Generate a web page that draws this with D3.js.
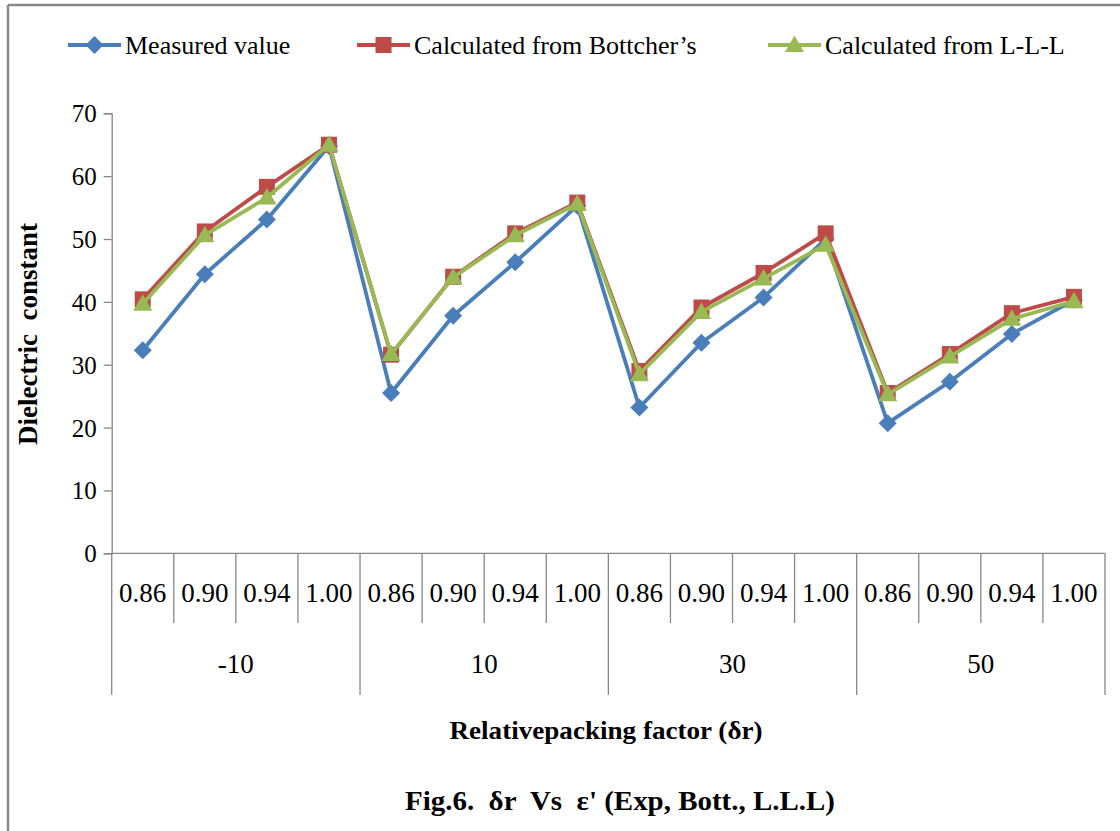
<!DOCTYPE html>
<html>
<head>
<meta charset="utf-8">
<script src="https://cdn.jsdelivr.net/npm/d3@7"></script>
<style>
  html, body { margin: 0; padding: 0; background: #fff; }
  svg { display: block; }
  text { font-family: "Liberation Serif", "Times New Roman", serif; fill: #000; }
</style>
</head>
<body>
<div id="chart"></div>
<script>
// ---------- data ----------
const groups = ["-10", "10", "30", "50"];
const subLabels = ["0.86", "0.90", "0.94", "1.00"];
const measured   = [32.3, 44.4, 53.1, 64.8, 25.5, 37.8, 46.3, 55.3, 23.2, 33.5, 40.7, 50.0, 20.7, 27.3, 34.9, 40.3];
const bottcher   = [40.4, 51.2, 58.3, 65.0, 31.6, 44.0, 50.9, 55.8, 29.0, 39.1, 44.6, 50.9, 25.5, 31.7, 38.2, 40.8];
const lll        = [39.7, 50.6, 56.6, 65.0, 31.7, 43.9, 50.6, 55.6, 28.5, 38.4, 43.7, 49.1, 25.3, 31.3, 37.3, 40.1];
const seriesNames = ["Measured value", "Calculated from Bottcher\u2019s", "Calculated from L-L-L"];
const yTicks = [0, 10, 20, 30, 40, 50, 60, 70];
const yTitle = "Dielectric  constant";
const xTitle = "Relativepacking factor (\u03b4r)";
const caption = "Fig.6.  \u03b4r  Vs  \u03b5' (Exp, Bott., L.L.L)";

// ---------- layout ----------
const W = 1120, H = 831;
const plotLeft = 111.7, plotRight = 1105, plotTop = 113.3, plotBottom = 553.3;
const colors = ["#4A7EBB", "#BE4B48", "#98B954"];
const shapes = ["diamond", "square", "triangle"];

const cats = [];
groups.forEach(g => subLabels.forEach(s => cats.push(g + "|" + s)));

const svg = d3.select("#chart").append("svg").attr("width", W).attr("height", H);

// outer frame
svg.append("line").attr("x1", 8).attr("x2", W).attr("y1", 5).attr("y2", 5)
  .attr("stroke", "#8a8a8a").attr("stroke-width", 2.5);
svg.append("line").attr("x1", 8).attr("x2", 8).attr("y1", 5).attr("y2", H)
  .attr("stroke", "#8a8a8a").attr("stroke-width", 2.5);

const x = d3.scaleBand().domain(cats).range([plotLeft, plotRight]).paddingInner(0).paddingOuter(0);
const y = d3.scaleLinear().domain([0, 70]).range([plotBottom, plotTop]);
const axisColor = "#878787";

// y axis
const yAxis = d3.axisLeft(y).tickValues(yTicks).tickSize(8).tickPadding(7).tickFormat(d3.format("d"));
const gy = svg.append("g").attr("transform", `translate(${plotLeft},0)`).call(yAxis);
gy.select(".domain").attr("stroke", axisColor).attr("stroke-width", 1.3);
gy.selectAll(".tick line").attr("stroke", axisColor).attr("stroke-width", 1.3);
gy.selectAll(".tick text").style("font-family", '"Liberation Serif", serif')
  .style("font-size", "25px").attr("fill", "#000").attr("dy", "0.34em");

// x axis line
svg.append("line").attr("x1", plotLeft).attr("x2", plotRight).attr("y1", y(0)).attr("y2", y(0))
  .attr("stroke", axisColor).attr("stroke-width", 1.3);

// category dividers
const subEnd = 623, grpEnd = 695;
cats.forEach((c, i) => {
  const xi = x(c);
  svg.append("line").attr("x1", xi).attr("x2", xi).attr("y1", y(0))
    .attr("y2", i % 4 === 0 ? grpEnd : subEnd)
    .attr("stroke", axisColor).attr("stroke-width", 1.3);
});
svg.append("line").attr("x1", plotRight).attr("x2", plotRight).attr("y1", y(0)).attr("y2", grpEnd)
  .attr("stroke", axisColor).attr("stroke-width", 1.3);

// sub labels
svg.append("g").selectAll("text").data(cats).join("text")
  .attr("x", d => x(d) + x.bandwidth() / 2)
  .attr("y", 602)
  .attr("text-anchor", "middle")
  .style("font-size", "27px")
  .text(d => d.split("|")[1]);

// group labels
svg.append("g").selectAll("text").data(groups).join("text")
  .attr("x", (g, gi) => (x(cats[gi * 4]) + x(cats[gi * 4 + 3]) + x.bandwidth()) / 2)
  .attr("y", 673)
  .attr("text-anchor", "middle")
  .style("font-size", "27px")
  .text(d => d);

// titles
svg.append("text").attr("x", 606).attr("y", 739).attr("text-anchor", "middle")
  .style("font-size", "26px").style("font-weight", "bold")
  .attr("textLength", 313).attr("lengthAdjust", "spacingAndGlyphs")
  .text(xTitle);

svg.append("text").attr("transform", "translate(37,334) rotate(-90)")
  .attr("text-anchor", "middle").style("white-space", "pre")
  .style("font-size", "27px").style("font-weight", "bold")
  .attr("textLength", 222).attr("lengthAdjust", "spacingAndGlyphs")
  .text(yTitle);

svg.append("text").attr("x", 620).attr("y", 810).attr("text-anchor", "middle")
  .style("white-space", "pre")
  .style("font-size", "28px").style("font-weight", "bold")
  .attr("textLength", 430).attr("lengthAdjust", "spacingAndGlyphs")
  .text(caption);

// marker path
function markerPath(shape) {
  if (shape === "diamond") return "M0,-9L9,0L0,9L-9,0Z";
  if (shape === "square") return "M-8,-8L8,-8L8,8L-8,8Z";
  return "M0,-9.5L9.5,7L-9.5,7Z";
}

// series
const allSeries = [measured, bottcher, lll];
const line = d3.line().x((d, i) => x(cats[i]) + x.bandwidth() / 2).y(d => y(d));
allSeries.forEach((vals, si) => {
  const g = svg.append("g");
  g.append("path").datum(vals).attr("d", line)
    .attr("fill", "none").attr("stroke", colors[si]).attr("stroke-width", 3.8)
    .attr("stroke-linejoin", "round");
  g.selectAll("path.m").data(vals).join("path").attr("class", "m")
    .attr("transform", (d, i) => `translate(${x(cats[i]) + x.bandwidth() / 2},${y(d)})`)
    .attr("d", markerPath(shapes[si]))
    .attr("fill", colors[si]);
});

// legend
const legendX = [68, 357, 768];
const legendY = 45;
seriesNames.forEach((name, si) => {
  const g = svg.append("g").attr("transform", `translate(${legendX[si]},${legendY})`);
  g.append("line").attr("x1", 0).attr("x2", 53).attr("y1", 0).attr("y2", 0)
    .attr("stroke", colors[si]).attr("stroke-width", 3.8);
  g.append("path").attr("transform", "translate(26.5,0)").attr("d", markerPath(shapes[si]))
    .attr("fill", colors[si]);
  g.append("text").attr("x", 57).attr("y", 9).style("font-size", "26px").text(name);
});
</script>
</body>
</html>
